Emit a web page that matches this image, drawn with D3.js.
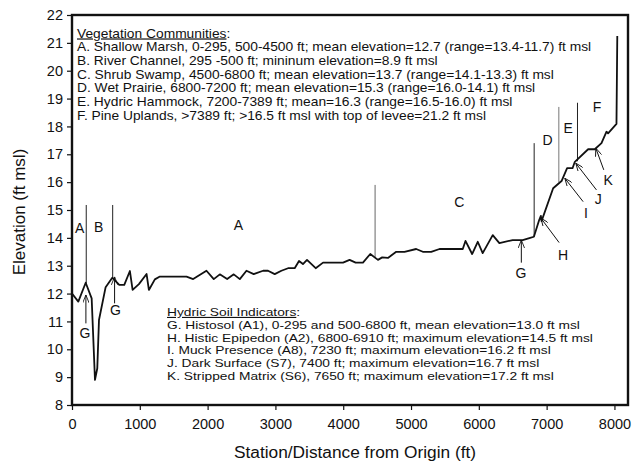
<!DOCTYPE html>
<html>
<head>
<meta charset="utf-8">
<script src="https://cdn.jsdelivr.net/npm/d3@7"></script>
<style>
  body { margin: 0; background: #fff; }
  text { font-family: "Liberation Sans", Arial, sans-serif; fill: #111; }
</style>
</head>
<body>
<svg id="chart"></svg>
<script>
// Ground profile, station (ft) and elevation (ft msl)
const stations = [0, 93, 202, 290, 339, 373, 398, 496, 594, 697, 771, 854, 894, 987, 1100, 1134, 1222, 1296,
  1689, 1787, 1983, 2091, 2180, 2288, 2386, 2475, 2573, 2680, 2818, 2891, 2990, 3088, 3186, 3284, 3348, 3406,
  3466, 3594, 3702, 3997, 4094, 4183, 4291, 4399, 4512, 4575, 4659, 4782, 4904, 5076, 5174, 5297, 5420, 5763,
  5803, 5901, 5984, 6057, 6205, 6303, 6499, 6647, 6745, 6812, 6890, 6915, 6925, 7096, 7220, 7302, 7382, 7416,
  7612, 7710, 7809, 7883, 7906, 8030, 8042];
const elevations = [12.0, 11.71, 12.39, 11.83, 8.9, 9.32, 11.05, 12.23, 12.57, 12.31, 12.31, 12.81, 12.13, 12.34,
  12.70, 12.13, 12.51, 12.61, 12.61, 12.52, 12.82, 12.52, 12.69, 12.52, 12.69, 12.52, 12.82, 12.70, 12.82, 12.82,
  12.70, 12.82, 12.91, 12.91, 13.17, 13.06, 13.21, 12.91, 13.11, 13.11, 13.21, 13.11, 13.11, 13.42, 13.21, 13.30,
  13.28, 13.50, 13.50, 13.60, 13.50, 13.50, 13.60, 13.60, 13.89, 13.42, 13.86, 13.45, 14.10, 13.81, 13.92, 13.92,
  13.99, 14.04, 14.64, 14.79, 14.6, 15.78, 16.04, 16.50, 16.50, 16.73, 17.18, 17.18, 17.40, 17.81, 17.75, 18.09,
  21.25];

// Zone boundary lines
const boundaryStations = [210, 600, 4470, 6816, 7180, 7455];
const boundaryTops = [15.18, 15.18, 15.9, 17.4, 18.7, 18.85];
const boundaryBottoms = [12.35, 12.57, 13.3, 14.04, 16.0, 16.75];
const boundaryColors = ["#222", "#222", "#666", "#222", "#777", "#222"];

// Zone letters
const zoneLetters = ["A", "B", "A", "C", "D", "E", "F"];
const zoneStations = [112, 392, 2455, 5711, 7013, 7317, 7744];
const zoneElevations = [14.34, 14.4, 14.46, 15.3, 17.51, 17.93, 18.7];

// Soil indicator arrows: tail -> tip, and label
const arrowLetters = ["G", "G", "G", "H", "I", "J", "K"];
const arrowTailX = [205, 628, 6627, 7184, 7538, 7735, 7843];
const arrowTailY = [10.93, 11.65, 13.11, 13.83, 15.3, 15.72, 16.44];
const arrowTipX = [205, 628, 6627, 6915, 7268, 7430, 7725];
const arrowTipY = [11.95, 12.6, 13.92, 14.71, 16.14, 16.68, 17.22];
const arrowLabelX = [190, 640, 6620, 7243, 7578, 7760, 7907];
const arrowLabelY = [10.57, 11.4, 12.73, 13.39, 14.9, 15.38, 16.08];

// Legend texts
const vegTitle = "Vegetation Communities";
const vegLines = [
  "A. Shallow Marsh, 0-295, 500-4500 ft; mean elevation=12.7 (range=13.4-11.7) ft msl",
  "B. River Channel, 295 -500 ft; mininum elevation=8.9 ft msl",
  "C. Shrub Swamp, 4500-6800 ft; mean elevation=13.7 (range=14.1-13.3) ft msl",
  "D. Wet Prairie, 6800-7200 ft; mean elevation=15.3 (range=16.0-14.1) ft msl",
  "E. Hydric Hammock, 7200-7389 ft; mean=16.3 (range=16.5-16.0) ft msl",
  "F. Pine Uplands, >7389 ft; >16.5 ft msl with top of levee=21.2 ft msl"
];
const soilTitle = "Hydric Soil Indicators";
const soilLines = [
  "G. Histosol (A1), 0-295 and 500-6800 ft, mean elevation=13.0 ft msl",
  "H. Histic Epipedon (A2), 6800-6910 ft; maximum elevation=14.5 ft msl",
  "I. Muck Presence (A8), 7230 ft; maximum elevation=16.2 ft msl",
  "J. Dark Surface (S7), 7400 ft; maximum elevation=16.7 ft msl",
  "K. Stripped Matrix (S6), 7650 ft; maximum elevation=17.2 ft msl"
];

const xTicks = [0, 1000, 2000, 3000, 4000, 5000, 6000, 7000, 8000];
const yTicks = d3.range(8, 23);

const width = 632, height = 465;
const margin = {top: 15, right: 4, bottom: 60, left: 72};
const w = width - margin.left - margin.right;
const h = height - margin.top - margin.bottom;

const svg = d3.select("#chart").attr("width", width).attr("height", height);

svg.append("defs").append("marker")
    .attr("id", "arrow")
    .attr("viewBox", "0 0 10 8")
    .attr("refX", 10).attr("refY", 4)
    .attr("markerWidth", 8).attr("markerHeight", 6.4)
    .attr("markerUnits", "userSpaceOnUse")
    .attr("orient", "auto")
    .append("path")
    .attr("d", "M0,0 L10,4 L0,8")
    .attr("fill", "none")
    .attr("stroke", "#111")
    .attr("stroke-width", 1.1);

const g = svg.append("g").attr("transform", `translate(${margin.left},${margin.top})`);

const x = d3.scaleLinear().domain([0, 8200]).range([0, w]);
const y = d3.scaleLinear().domain([8, 22]).range([h, 0]);

// axes
const xAxis = g.append("g").attr("transform", `translate(0,${h})`)
    .call(d3.axisBottom(x).tickValues(xTicks).tickFormat(d3.format("d")).tickSize(5).tickPadding(9));
const yAxis = g.append("g")
    .call(d3.axisLeft(y).tickValues(yTicks).tickSize(5).tickPadding(4));
[xAxis, yAxis].forEach(a => {
  a.select(".domain").remove();
  a.selectAll(".tick line").attr("stroke", "#111").attr("stroke-width", 1.2);
  a.selectAll(".tick text").style("font-size", "14.5px").style("font-family", "Liberation Sans, Arial, sans-serif").attr("fill", "#111");
});

// frame
g.append("rect")
    .attr("width", w).attr("height", h)
    .attr("fill", "none").attr("stroke", "#111").attr("stroke-width", 2.4);

// axis titles
svg.append("text")
    .attr("x", 355).attr("y", 458)
    .attr("text-anchor", "middle")
    .style("font-size", "17.3px")
    .text("Station/Distance from Origin (ft)");
svg.append("text")
    .attr("transform", `translate(25,${margin.top + h / 2 + 2}) rotate(-90)`)
    .attr("text-anchor", "middle")
    .style("font-size", "17px")
    .text("Elevation (ft msl)");

// zone boundaries
g.selectAll(".bound").data(boundaryStations).enter().append("line")
    .attr("class", "bound")
    .attr("x1", d => x(d)).attr("x2", d => x(d))
    .attr("y1", (d, i) => y(boundaryTops[i]))
    .attr("y2", (d, i) => y(boundaryBottoms[i]))
    .attr("stroke", (d, i) => boundaryColors[i])
    .attr("stroke-width", 1);

// profile line
const profile = stations.map((s, i) => [s, elevations[i]]);
g.append("path")
    .datum(profile)
    .attr("fill", "none")
    .attr("stroke", "#111")
    .attr("stroke-width", 1.8)
    .attr("stroke-linejoin", "round")
    .attr("d", d3.line().x(d => x(d[0])).y(d => y(d[1])));

// zone letters
g.selectAll(".zone").data(zoneLetters).enter().append("text")
    .attr("class", "zone")
    .attr("x", (d, i) => x(zoneStations[i]))
    .attr("y", (d, i) => y(zoneElevations[i]))
    .attr("dy", "0.36em")
    .attr("text-anchor", "middle")
    .style("font-size", "14px")
    .text(d => d);

// indicator arrows
g.selectAll(".arr").data(arrowLetters).enter().append("line")
    .attr("class", "arr")
    .attr("x1", (d, i) => x(arrowTailX[i]))
    .attr("y1", (d, i) => y(arrowTailY[i]))
    .attr("x2", (d, i) => x(arrowTipX[i]))
    .attr("y2", (d, i) => y(arrowTipY[i]))
    .attr("stroke", "#111")
    .attr("stroke-width", 1)
    .attr("marker-end", "url(#arrow)");
g.selectAll(".arrlab").data(arrowLetters).enter().append("text")
    .attr("class", "arrlab")
    .attr("x", (d, i) => x(arrowLabelX[i]))
    .attr("y", (d, i) => y(arrowLabelY[i]))
    .attr("dy", "0.36em")
    .attr("text-anchor", "middle")
    .style("font-size", "14px")
    .text(d => d);

// legend blocks (text is a bit wider than tall in the original, so stretch it)
function drawBlock(x0, y0, step, size, sx, title, lines) {
  const blk = svg.append("g").attr("transform", `translate(${x0},${y0}) scale(${sx},1)`);
  const t = blk.append("text")
      .attr("x", 0).attr("y", 0)
      .style("font-size", size + "px");
  t.append("tspan").style("text-decoration", "underline").text(title);
  t.append("tspan").text(":");
  blk.selectAll(null).data(lines).enter().append("text")
      .attr("x", 0)
      .attr("y", (d, i) => step * (i + 1))
      .style("font-size", size + "px")
      .text(d => d);
}
drawBlock(77, 37.5, 13.7, 11.9, 1.16, vegTitle, vegLines);
drawBlock(167, 316, 12.8, 11.2, 1.23, soilTitle, soilLines);
</script>
</body>
</html>
